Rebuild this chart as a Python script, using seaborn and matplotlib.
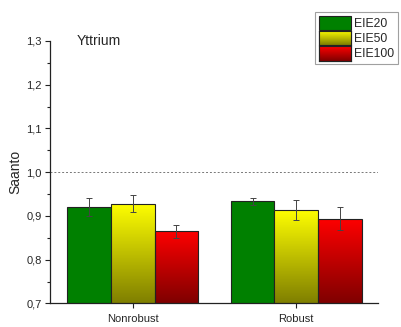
import numpy as np
import pandas as pd
import matplotlib
matplotlib.use("Agg")
import matplotlib.pyplot as plt
import seaborn as sns
from matplotlib.colors import LinearSegmentedColormap
from matplotlib.ticker import MultipleLocator, FuncFormatter
from matplotlib.patches import Patch

categories = ["Nonrobust", "Robust"]
series = ["EIE20", "EIE50", "EIE100"]
eie20 = [0.920, 0.933]
eie50 = [0.928, 0.913]
eie100 = [0.865, 0.894]
err20 = [0.020, 0.009]
err50 = [0.019, 0.023]
err100 = [0.015, 0.026]

top_colors = ["#008000", "#ffff00", "#ff0000"]
bottom_colors = ["#008000", "#7f7f00", "#7f0000"]

sns.set_style("ticks")
plt.rcParams["font.family"] = ["Liberation Sans", "DejaVu Sans"]

df = pd.DataFrame({
    "cat": categories * 3,
    "series": [s for s in series for _ in categories],
    "val": eie20 + eie50 + eie100,
    "err": err20 + err50 + err100,
})

fig = plt.figure(figsize=(4.01, 3.27), dpi=100)
ax = fig.add_axes([0.1247, 0.072, 0.818, 0.803])

sns.barplot(data=df, x="cat", y="val", hue="series", hue_order=series,
            palette=top_colors, errorbar=None, width=0.8, ax=ax,
            edgecolor="#222222", linewidth=0.8, legend=False, saturation=1)

ymin = 0.7
bar_conts = list(ax.containers)
for i, cont in enumerate(bar_conts):
    cmap = LinearSegmentedColormap.from_list("g%d" % i, [bottom_colors[i], top_colors[i]])
    grad = np.linspace(0, 1, 256).reshape(-1, 1)
    sub = df[df["series"] == series[i]].set_index("cat").loc[categories]
    for bar, v, e in zip(cont.patches, sub["val"], sub["err"]):
        x0 = bar.get_x()
        w = bar.get_width()
        h = bar.get_height()
        if i > 0:
            im = ax.imshow(grad, extent=[x0, x0 + w, ymin, h], origin="lower",
                           aspect="auto", cmap=cmap, zorder=bar.get_zorder() + 0.01)
            im.set_clip_path(bar)
            bar.set_facecolor("none")
            bar.set_zorder(bar.get_zorder() + 0.02)
        ax.errorbar(x0 + w / 2, v, yerr=e, fmt="none", ecolor="#444444",
                    elinewidth=0.7, capsize=2.5, capthick=0.7, zorder=5)

ax.axhline(1.0, color="#777777", linestyle=(0, (2, 2)), linewidth=0.7, zorder=0)

ax.set_xlim(-0.506, 1.5)
ax.set_ylim(0.7, 1.3)
ax.yaxis.set_major_locator(MultipleLocator(0.1))
ax.yaxis.set_minor_locator(MultipleLocator(0.05))
ax.yaxis.set_major_formatter(FuncFormatter(lambda v, p: ("%.1f" % v).replace(".", ",")))
ax.tick_params(axis="both", which="major", labelsize=8, length=3.5, width=0.8, color="#222222",
               direction="out", pad=2.5)
ax.tick_params(axis="x", which="major", pad=4)
ax.tick_params(axis="y", which="minor", length=2.2, width=0.8, color="#222222", direction="out")
ax.set_xlabel("")
ax.set_ylabel("Saanto", fontsize=10, labelpad=3)
for s in ["top", "right"]:
    ax.spines[s].set_visible(False)
for s in ["left", "bottom"]:
    ax.spines[s].set_linewidth(0.9)
    ax.spines[s].set_color("#222222")

ax.text(0.08, 1.0, "Yttrium", transform=ax.transAxes, fontsize=10, ha="left", va="center")

handles = [Patch(facecolor=top_colors[i], edgecolor="#222222", linewidth=0.8) for i in range(3)]
leg = fig.legend(handles, series, loc="upper right", bbox_to_anchor=(0.993, 0.963),
                 fontsize=8.8, frameon=True, fancybox=False, edgecolor="#888888",
                 handlelength=2.6, handleheight=1.45, handletextpad=0.3,
                 labelspacing=0.05, borderpad=0.3, borderaxespad=0)
leg.get_frame().set_linewidth(0.8)

fig.canvas.draw()
renderer = fig.canvas.get_renderer()
W, H = fig.bbox.width, fig.bbox.height
for i, lh in enumerate(leg.legend_handles):
    if i == 0:
        continue
    bb = lh.get_window_extent(renderer)
    cmap = LinearSegmentedColormap.from_list("l%d" % i, [bottom_colors[i], top_colors[i]])
    lax = fig.add_axes([bb.x0 / W, bb.y0 / H, bb.width / W, bb.height / H])
    lax.set_zorder(20)
    lax.imshow(np.linspace(0, 1, 64).reshape(-1, 1), origin="lower", aspect="auto", cmap=cmap)
    lax.set_xticks([]); lax.set_yticks([])
    for sp in lax.spines.values():
        sp.set_color("#222222"); sp.set_linewidth(0.8)

fig.savefig("out.png", dpi=100)
